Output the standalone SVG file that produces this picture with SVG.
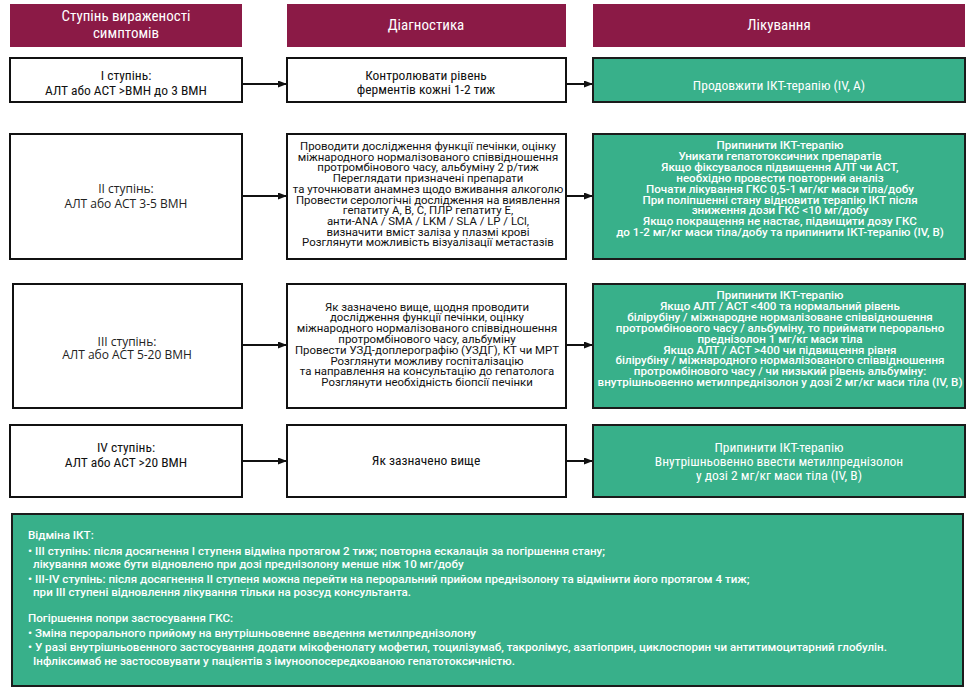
<svg xmlns="http://www.w3.org/2000/svg" width="976" height="695" viewBox="0 0 976 695">
<style>
.hdr{fill:#8b1a46}
.wb{fill:#fff;stroke:#111;stroke-width:2}
.gb{fill:#38b08a;stroke:#1b1b1b;stroke-width:2}
.ht{font-family:"Liberation Sans Narrow","Roboto Condensed","Liberation Sans",sans-serif;font-size:15px;fill:#fff;text-anchor:middle}
.nt{font-family:"Liberation Sans Narrow","Roboto Condensed","Liberation Sans",sans-serif;font-size:13.5px;fill:#111;text-anchor:middle}
.ntw{font-family:"Liberation Sans Narrow","Roboto Condensed","Liberation Sans",sans-serif;font-size:13.5px;fill:#fff;text-anchor:middle}
.ot{font-family:"Open Sans","Noto Sans",sans-serif;font-size:12px;fill:#222;text-anchor:middle}
.rt{font-family:Roboto,"Noto Sans",sans-serif;font-size:11.4px;fill:#111;text-anchor:middle}
.rtw{font-family:Roboto,"Noto Sans",sans-serif;font-size:11.6px;font-weight:500;fill:#fff;text-anchor:middle}
.bt{font-family:Roboto,"Noto Sans",sans-serif;font-size:11.6px;font-weight:500;fill:#fff}
.cn{stroke:#111;stroke-width:2;fill:none}
</style>
<defs>
<marker id="ah" markerWidth="9" markerHeight="7" refX="8" refY="3.5" orient="auto" markerUnits="userSpaceOnUse">
<path d="M0,0 L9,3.5 L0,7 z" fill="#111"/>
</marker>
</defs>

<g id="header-severity">
<rect class="hdr" x="10" y="4" width="232" height="43"/>
<text class="ht" x="126" y="21">Ступінь вираженості</text>
<text class="ht" x="126" y="38">симптомів</text>
</g>
<g id="header-diagnostics">
<rect class="hdr" x="287" y="4" width="279" height="43"/>
<text class="ht" x="426" y="30">Діагностика</text>
</g>
<g id="header-treatment">
<rect class="hdr" x="593" y="4" width="372" height="43"/>
<text class="ht" x="779" y="30">Лікування</text>
</g>

<g id="grade1">
<rect class="wb" x="10" y="58" width="232" height="44"/>
<text class="nt" x="126" y="80">І ступінь:</text>
<text class="nt" x="126" y="95">АЛТ або АСТ &gt;ВМН до 3 ВМН</text>
</g>
<g id="diag1">
<rect class="wb" x="287" y="58" width="279" height="44"/>
<text class="nt" x="426" y="80">Контролювати рівень</text>
<text class="nt" x="426" y="94">ферментів кожні 1-2 тиж</text>
</g>
<g id="treat1">
<rect class="gb" x="593" y="58" width="372" height="44"/>
<text class="ntw" x="779" y="90">Продовжити ІКТ-терапію (IV, A)</text>
</g>

<g id="grade2">
<rect class="wb" x="10" y="134" width="232" height="125"/>
<text class="ot" x="126" y="193">ІІ ступінь:</text>
<text class="ot" x="126" y="208">АЛТ або АСТ 3-5 ВМН</text>
</g>
<g id="diag2">
<rect class="wb" x="287" y="134" width="279" height="125"/>
<text class="rt" x="428" y="150">Проводити дослідження функції печінки, оцінку</text>
<text class="rt" x="428" y="160.7">міжнародного нормалізованого співвідношення</text>
<text class="rt" x="428" y="171.4">протромбінового часу, альбуміну 2 р/тиж</text>
<text class="rt" x="428" y="182.1">Переглядати призначені препарати</text>
<text class="rt" x="428" y="192.8">та уточнювати анамнез щодо вживання алкоголю</text>
<text class="rt" x="428" y="203.5">Провести серологічні дослідження на виявлення</text>
<text class="rt" x="428" y="214.2">гепатиту А, В, С, ПЛР гепатиту Е,</text>
<text class="rt" x="428" y="224.9">анти-ANA / SMA / LKM / SLA / LP / LCl,</text>
<text class="rt" x="428" y="235.6">визначити вміст заліза у плазмі крові</text>
<text class="rt" x="428" y="246.3">Розглянути можливість візуалізації метастазів</text>
</g>
<g id="treat2">
<rect class="gb" x="593" y="134" width="372" height="125"/>
<text class="rtw" x="780" y="149">Припинити ІКТ-терапію</text>
<text class="rtw" x="780" y="159.9">Уникати гепатотоксичних препаратів</text>
<text class="rtw" x="780" y="170.8">Якщо фіксувалося підвищення АЛТ чи АСТ,</text>
<text class="rtw" x="780" y="181.7">необхідно провести повторний аналіз</text>
<text class="rtw" x="780" y="192.6">Почати лікування ГКС 0,5-1 мг/кг маси тіла/добу</text>
<text class="rtw" x="780" y="203.5">При поліпшенні стану відновити терапію ІКТ після</text>
<text class="rtw" x="780" y="214.4">зниження дози ГКС &lt;10 мг/добу</text>
<text class="rtw" x="780" y="225.3">Якщо покращення не настає, підвищити дозу ГКС</text>
<text class="rtw" x="780" y="236.2">до 1-2 мг/кг маси тіла/добу та припинити ІКТ-терапію (IV, B)</text>
</g>

<g id="grade3">
<rect class="wb" x="13" y="284" width="229" height="124"/>
<text class="ot" x="127" y="346">ІІІ ступінь:</text>
<text class="ot" x="127" y="359">АЛТ або АСТ 5-20 ВМН</text>
</g>
<g id="diag3">
<rect class="wb" x="287" y="284" width="279" height="124"/>
<text class="rt" x="427" y="310.5">Як зазначено вище, щодня проводити</text>
<text class="rt" x="427" y="321.3">дослідження функції печінки, оцінку</text>
<text class="rt" x="427" y="332.1">міжнародного нормалізованого співвідношення</text>
<text class="rt" x="427" y="342.9">протромбінового часу, альбуміну</text>
<text class="rt" x="427" y="353.7">Провести УЗД-доплерографію (УЗДГ), КТ чи МРТ</text>
<text class="rt" x="427" y="364.5">Розглянути можливу госпіталізацію</text>
<text class="rt" x="427" y="375.3">та направлення на консультацію до гепатолога</text>
<text class="rt" x="427" y="386.1">Розглянути необхідність біопсії печінки</text>
</g>
<g id="treat3">
<rect class="gb" x="593" y="284" width="372" height="124"/>
<text class="rtw" x="780" y="299">Припинити ІКТ-терапію</text>
<text class="rtw" x="780" y="309.9">Якщо АЛТ / АСТ &lt;400 та нормальний рівень</text>
<text class="rtw" x="780" y="320.8">білірубіну / міжнародне нормалізоване співвідношення</text>
<text class="rtw" x="780" y="331.7">протромбінового часу / альбуміну, то приймати перорально</text>
<text class="rtw" x="780" y="342.6">преднізолон 1 мг/кг маси тіла</text>
<text class="rtw" x="780" y="353.5">Якщо АЛТ / АСТ &gt;400 чи підвищення рівня</text>
<text class="rtw" x="780" y="364.4">білірубіну / міжнародного нормалізованого співвідношення</text>
<text class="rtw" x="780" y="375.3">протромбінового часу / чи низький рівень альбуміну:</text>
<text class="rtw" x="780" y="386.2">внутрішньовенно метилпреднізолон у дозі 2 мг/кг маси тіла (IV, B)</text>
</g>

<g id="grade4">
<rect class="wb" x="10" y="425" width="232" height="72"/>
<text class="nt" x="126" y="452">IV ступінь:</text>
<text class="nt" x="126" y="467">АЛТ або АСТ &gt;20 ВМН</text>
</g>
<g id="diag4">
<rect class="wb" x="287" y="425" width="279" height="72"/>
<text class="nt" x="426" y="465">Як зазначено вище</text>
</g>
<g id="treat4">
<rect class="gb" x="593" y="425" width="372" height="72"/>
<text class="ntw" x="779" y="452">Припинити ІКТ-терапію</text>
<text class="ntw" x="779" y="466">Внутрішньовенно ввести метилпреднізолон</text>
<text class="ntw" x="779" y="480">у дозі 2 мг/кг маси тіла (IV, B)</text>
</g>

<g id="notes">
<rect class="gb" x="12" y="514" width="951" height="172"/>
<text class="bt" x="28" y="539">Відміна ІКТ:</text>
<text class="bt" x="28" y="555">• III ступінь: після досягнення I ступеня відміна протягом 2 тиж; повторна ескалація за погіршення стану;</text>
<text class="bt" x="33" y="568">лікування може бути відновлено при дозі преднізолону менше ніж 10 мг/добу</text>
<text class="bt" x="28" y="583">• III-IV ступінь: після досягнення II ступеня можна перейти на пероральний прийом преднізолону та відмінити його протягом 4 тиж;</text>
<text class="bt" x="33" y="596">при III ступені відновлення лікування тільки на розсуд консультанта.</text>
<text class="bt" x="28" y="622">Погіршення попри застосування ГКС:</text>
<text class="bt" x="28" y="637">• Зміна перорального прийому на внутрішньовенне введення метилпреднізолону</text>
<text class="bt" x="28" y="651">• У разі внутрішньовенного застосування додати мікофенолату мофетил, тоцилізумаб, такролімус, азатіоприн, циклоспорин чи антитимоцитарний глобулін.</text>
<text class="bt" x="33" y="665">Інфліксимаб не застосовувати у пацієнтів з імуноопосередкованою гепатотоксичністю.</text>
</g>

<g id="connectors">
<line class="cn" x1="243" y1="84" x2="286" y2="84" marker-end="url(#ah)"/>
<line class="cn" x1="567" y1="84" x2="592" y2="84" marker-end="url(#ah)"/>
<line class="cn" x1="243" y1="196" x2="286" y2="196" marker-end="url(#ah)"/>
<line class="cn" x1="567" y1="196" x2="592" y2="196" marker-end="url(#ah)"/>
<line class="cn" x1="243" y1="345" x2="286" y2="345" marker-end="url(#ah)"/>
<line class="cn" x1="567" y1="345" x2="592" y2="345" marker-end="url(#ah)"/>
<line class="cn" x1="243" y1="461" x2="286" y2="461" marker-end="url(#ah)"/>
<line class="cn" x1="567" y1="461" x2="592" y2="461" marker-end="url(#ah)"/>
</g>
</svg>
